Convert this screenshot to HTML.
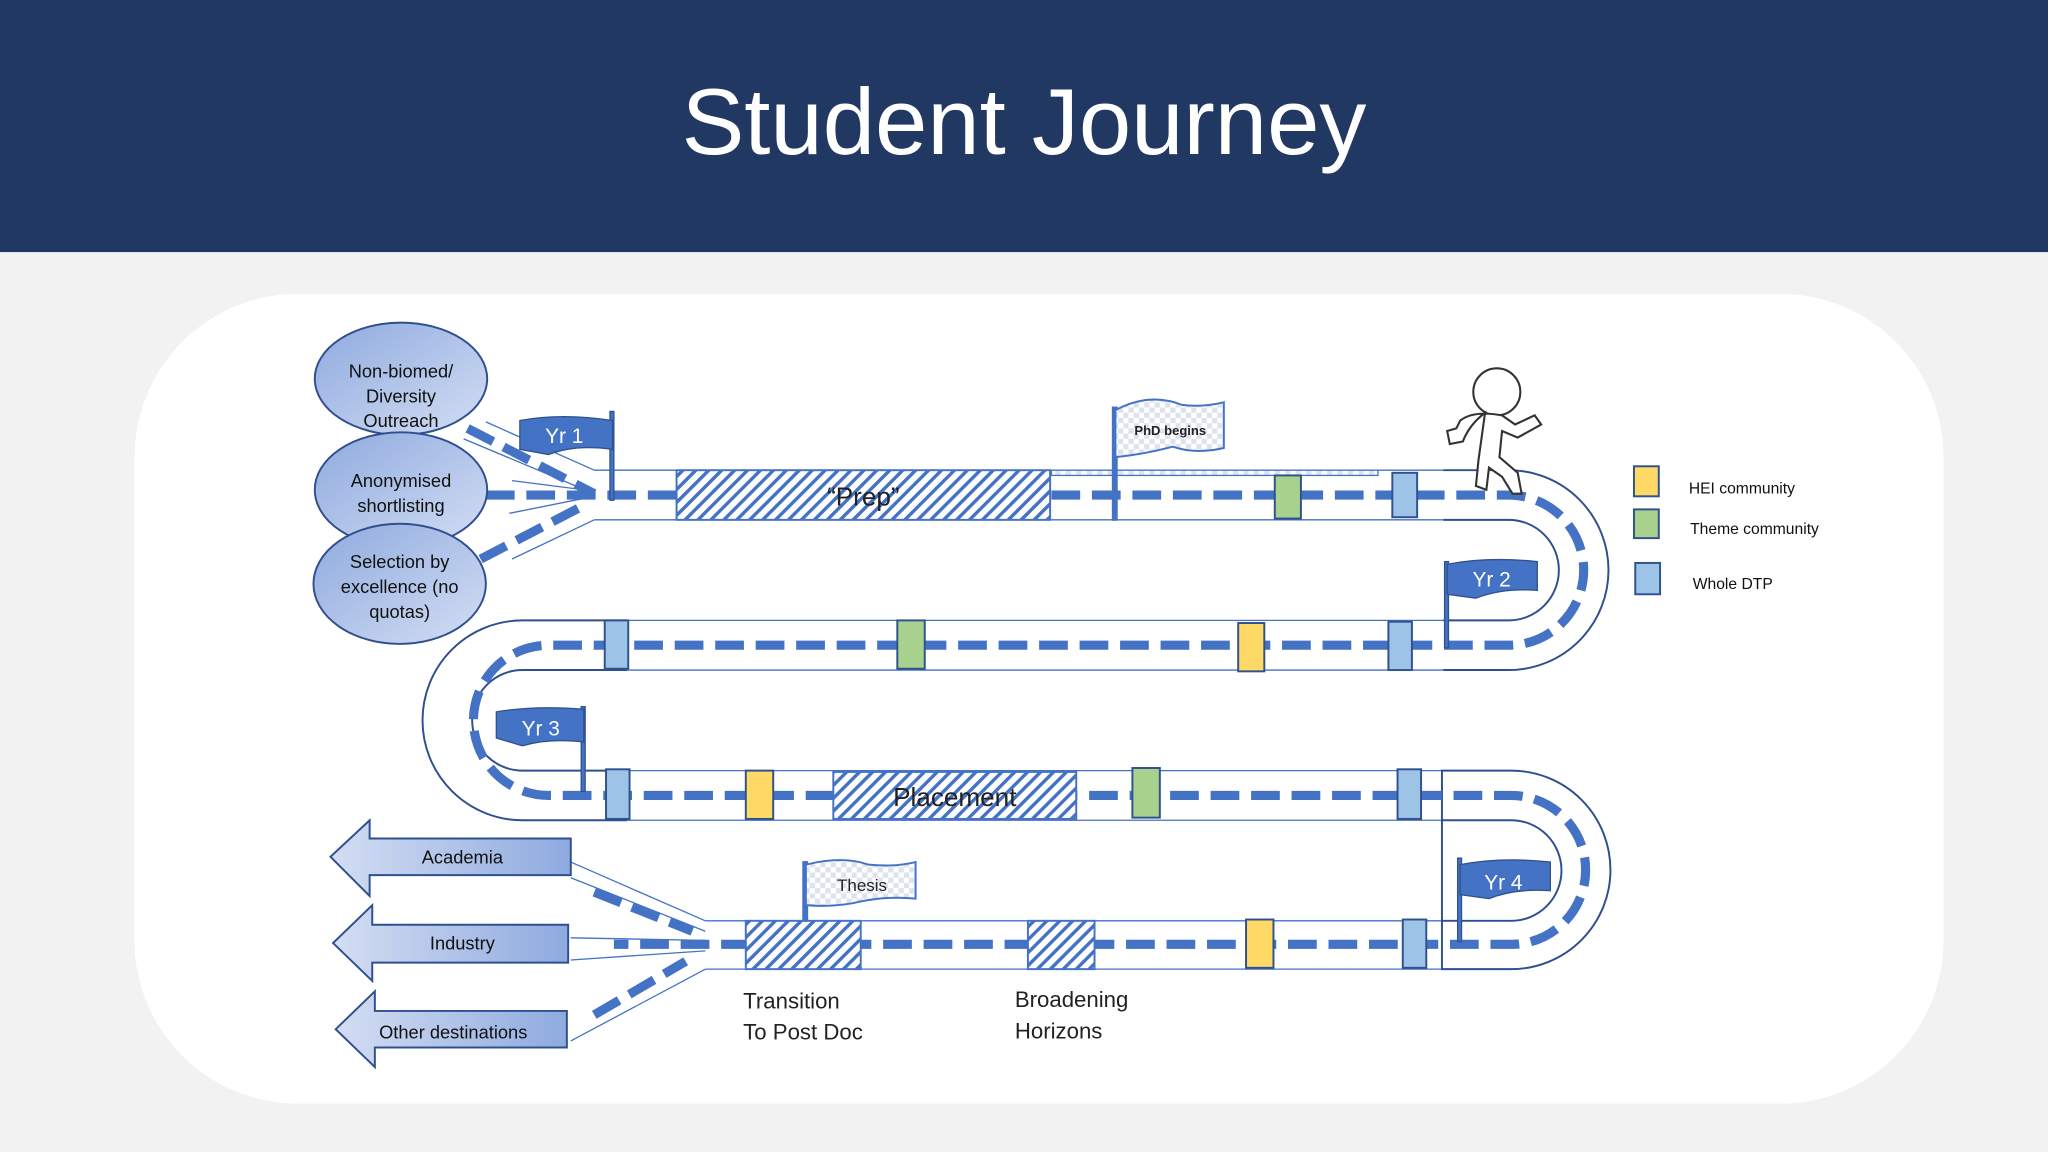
<!DOCTYPE html>
<html><head><meta charset="utf-8"><style>
html,body{margin:0;padding:0;width:2048px;height:1152px;overflow:hidden;background:#f2f2f2}
svg{display:block}
text{font-family:"Liberation Sans",sans-serif}
</style></head><body>
<svg width="2048" height="1152" viewBox="0 0 1568 882" xmlns="http://www.w3.org/2000/svg">
<defs>
<pattern id="hatch" width="7" height="7" patternUnits="userSpaceOnUse" patternTransform="rotate(45)">
<rect width="7" height="7" fill="#fff"/><rect width="2.6" height="7" fill="#4472c4"/></pattern>
<pattern id="chk" width="8" height="8" patternUnits="userSpaceOnUse">
<rect width="8" height="8" fill="#fff"/><rect width="4" height="4" fill="#dde3ee"/><rect x="4" y="4" width="4" height="4" fill="#dde3ee"/></pattern>
<linearGradient id="cg" x1="0" y1="0" x2="1" y2="1"><stop offset="0" stop-color="#8eaadf"/><stop offset="1" stop-color="#d4def3"/></linearGradient>
<linearGradient id="ag" x1="0" y1="0" x2="1" y2="0"><stop offset="0" stop-color="#d4def3"/><stop offset="1" stop-color="#8eaadf"/></linearGradient>
</defs>
<rect x="0" y="0" width="1568" height="193" fill="#213863"/>
<text x="784" y="118" font-size="72" fill="#fff" text-anchor="middle">Student Journey</text>
<rect x="103" y="225" width="1385" height="620" rx="125" fill="#fff"/>

<g fill="#fff" stroke="#4472c4" stroke-width="1">
<path d="M455 360 H1105 M455 398 H1105"/>
<path d="M480 475 H1105 M480 513 H1105"/>
<path d="M400 590 H1105 M400 628 H1105"/>
<path d="M540 705 H1105 M540 742 H1105"/>
</g>
<g fill="none" stroke="#2f4f8f" stroke-width="1.5">
<path d="M1105 360 H1155 A76.5 76.5 0 0 1 1155 513 H1105"/>
<path d="M1105 398 H1155 A38.5 38.5 0 0 1 1155 475 H1105"/>
<path d="M480 475 H400 A76.5 76.5 0 0 0 400 628 H480"/>
<path d="M480 513 H400 A38.5 38.5 0 0 0 400 590 H480"/>
<path d="M1104 590 H1157 A76 76 0 0 1 1157 742 H1104 Z"/>
<path d="M1104 628 H1157 A38 38 0 0 1 1157 705 H1104"/>
</g>
<g stroke="#4472c4" stroke-width="1" fill="none">
<path d="M372 323 L455 360 M355 336 L455 378 M392 368 L455 376 M390 393 L455 380 M392 428 L455 398"/>
<path d="M437 660 L540 705 M437 672 L540 713 M437 718 L540 720 M437 735 L540 728 M437 797 L540 742"/>
</g>
<g stroke="#4472c4" stroke-width="7" fill="none" stroke-dasharray="22 9">
<path d="M358 328 L455 378"/>
<path d="M372 379 H518"/>
<path d="M368 428 L445 388"/>
<path d="M805 379 H1155 A57 57 0 0 1 1155 494 H420 A57.5 57.5 0 0 0 420 609 H1157 A57 57 0 0 1 1157 723 H470"/>
<path d="M455 683 L530 713"/>
<path d="M455 777 L525 736"/>
</g>
<g stroke="#4472c4" stroke-width="1.5">
<rect x="518" y="360" width="286" height="38" fill="url(#hatch)"/>
<rect x="638" y="591" width="186" height="36" fill="url(#hatch)"/>
<rect x="571" y="705" width="88" height="37" fill="url(#hatch)"/>
<rect x="787" y="705" width="51" height="37" fill="url(#hatch)"/>
</g>
<text x="661" y="387" font-size="20" text-anchor="middle" fill="#222">“Prep”</text>
<text x="731" y="617" font-size="20" text-anchor="middle" fill="#222">Placement</text>
<rect x="805" y="360" width="250" height="4" fill="url(#chk)" stroke="#4472c4" stroke-width="1"/>
<g stroke="#2f528f" stroke-width="1.5">
<rect x="976" y="364" width="20" height="33" fill="#a9d18e"/>
<rect x="1066" y="362" width="19" height="34" fill="#9dc3e6"/>
<rect x="463" y="475" width="18" height="37" fill="#9dc3e6"/>
<rect x="687" y="475" width="21" height="37" fill="#a9d18e"/>
<rect x="948" y="477" width="20" height="37" fill="#ffd966"/>
<rect x="1063" y="476" width="18" height="37" fill="#9dc3e6"/>
<rect x="464" y="589" width="18" height="38" fill="#9dc3e6"/>
<rect x="571" y="590" width="21" height="37" fill="#ffd966"/>
<rect x="867" y="588" width="21" height="38" fill="#a9d18e"/>
<rect x="1070" y="589" width="18" height="38" fill="#9dc3e6"/>
<rect x="954" y="704" width="21" height="37" fill="#ffd966"/>
<rect x="1074" y="704" width="18" height="37" fill="#9dc3e6"/>
</g>
<g stroke="#2f4f8f" stroke-width="1.5" fill="url(#cg)">
<ellipse cx="307" cy="290" rx="66" ry="43"/>
<ellipse cx="307" cy="375" rx="66" ry="44"/>
<ellipse cx="306" cy="447" rx="66" ry="46"/>
</g>
<g font-size="14" text-anchor="middle" fill="#111">
<text x="307" y="289">Non-biomed/</text><text x="307" y="308">Diversity</text><text x="307" y="327">Outreach</text>
<text x="307" y="373">Anonymised</text><text x="307" y="392">shortlisting</text>
<text x="306" y="435">Selection by</text><text x="306" y="454">excellence (no</text><text x="306" y="473">quotas)</text>
</g>
<g fill="#4472c4" stroke="#2f528f" stroke-width="1">
<rect x="467" y="315" width="3" height="68"/>
<path d="M398 322 Q430 316 469 322 V344 Q440 340 420 348 L398 344 Z"/>
<rect x="1106" y="430" width="3" height="66"/>
<path d="M1108 432 Q1140 426 1177 430 V452 Q1150 450 1130 458 L1108 455 Z"/>
<rect x="445" y="541" width="3" height="65"/>
<path d="M380 545 Q410 540 447 543 V568 Q420 565 400 571 L380 565 Z"/>
<rect x="1116" y="657" width="3" height="64"/>
<path d="M1118 662 Q1150 656 1187 660 V682 Q1160 680 1140 688 L1118 685 Z"/>
</g>
<g font-size="16" fill="#fff" text-anchor="middle">
<text x="432" y="339">Yr 1</text><text x="1142" y="449">Yr 2</text><text x="414" y="563">Yr 3</text><text x="1151" y="681">Yr 4</text>
</g>
<g stroke="#4472c4" stroke-width="1.5" fill="url(#chk)">
<rect x="852" y="312" width="3" height="86" fill="#4472c4"/>
<path d="M854 314 Q880 300 905 310 Q920 312 937 308 V343 Q915 348 898 342 Q875 348 854 350 Z"/>
<rect x="615" y="660" width="3" height="45" fill="#4472c4"/>
<path d="M617 662 Q645 655 665 662 Q685 664 701 660 V688 Q680 686 660 690 Q640 695 617 693 Z"/>
</g>
<text x="896" y="333" font-size="10" font-weight="bold" text-anchor="middle" fill="#222">PhD begins</text>
<text x="660" y="682" font-size="13" text-anchor="middle" fill="#222">Thesis</text>
<g fill="#fff" stroke="#333" stroke-width="1.6">
<circle cx="1146" cy="300" r="18"/>
<path d="M1137 316 Q1125 325 1120 338 L1110 340 L1108 330 L1115 328 L1118 322 Q1128 314 1150 318 L1160 325 L1175 318 L1180 325 L1162 335 L1150 330 L1148 350 L1162 362 L1165 378 L1158 378 L1150 365 L1140 358 L1138 375 L1130 372 L1132 352 Z"/>
</g>
<g stroke="#2f4f8f" stroke-width="1.5" fill="url(#ag)">
<path d="M437 642 H283 V628 L253 656 L283 686 V670 H437 Z"/>
<path d="M435 708 H285 V693 L255 722 L285 751 V737 H435 Z"/>
<path d="M434 774 H287 V759 L257 788 L287 817 V802 H434 Z"/>
</g>
<g font-size="14" text-anchor="middle" fill="#111">
<text x="354" y="661">Academia</text><text x="354" y="727">Industry</text><text x="347" y="795">Other destinations</text>
</g>
<g font-size="17" fill="#222">
<text x="569" y="772">Transition</text><text x="569" y="796">To Post Doc</text>
<text x="777" y="771">Broadening</text><text x="777" y="795">Horizons</text>
</g>
<g stroke="#2f528f" stroke-width="1.5">
<rect x="1251" y="357" width="19" height="23" fill="#ffd966"/>
<rect x="1251" y="390" width="19" height="22" fill="#a9d18e"/>
<rect x="1252" y="431" width="19" height="24" fill="#9dc3e6"/>
</g>
<g font-size="12" fill="#111">
<text x="1293" y="378">HEI community</text><text x="1294" y="409">Theme community</text><text x="1296" y="451">Whole DTP</text>
</g>
</svg>
</body></html>
